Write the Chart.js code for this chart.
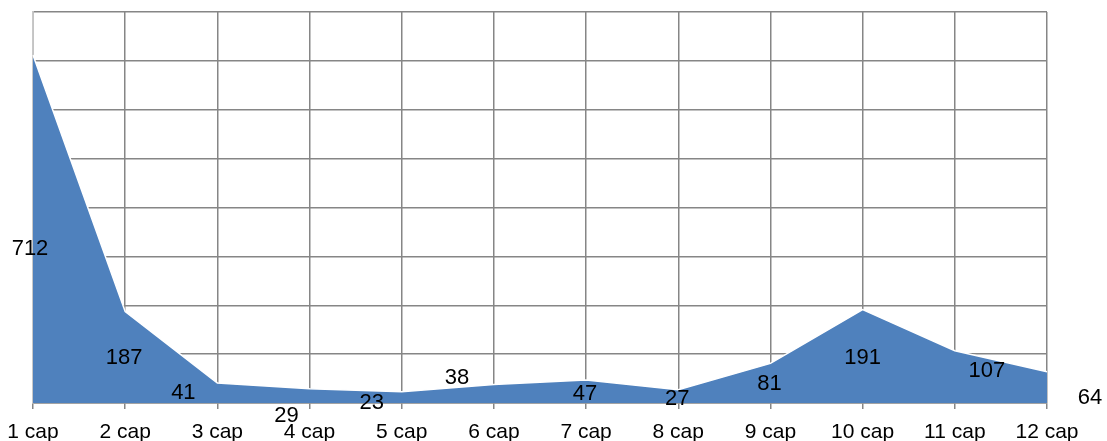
<!DOCTYPE html>
<html>
<head>
<meta charset="utf-8">
<script src="https://cdn.jsdelivr.net/npm/chart.js"></script>
<style>
  html, body { margin: 0; padding: 0; background: #ffffff; }
  #wrap { width: 1107px; height: 441px; position: relative; }
</style>
</head>
<body>
<div id="wrap"><canvas id="chart"></canvas></div>
<script>
// chart data
const categories = ['1 cap', '2 cap', '3 cap', '4 cap', '5 cap', '6 cap', '7 cap', '8 cap', '9 cap', '10 cap', '11 cap', '12 cap']
const counts = [712, 187, 41, 29, 23, 38, 47, 27, 81, 191, 107, 64]
const yMax = 800
const yStep = 100

// pixel nudges for the value labels (Excel placed them a bit oddly)
const labelNudgeX = [-3, -1, -34, -23, -30, -37, -1, -1, -1, 0, 32, 43]
const labelNudgeY = [20, 1, 0, 20, 6, -16, 2, 3, 1, 2, -6, 11]

const gridColor = '#868686'

// draws each value at the middle of its area column, then nudges it
const valueLabels = {
  id: 'valueLabels',
  afterDraw(chart) {
    const ctx = chart.ctx
    const meta = chart.getDatasetMeta(0)
    const yScale = chart.scales.y
    const zero = yScale.getPixelForValue(0)
    ctx.save()
    ctx.font = '22px "Liberation Sans", Arial, sans-serif'
    ctx.fillStyle = '#000000'
    ctx.textAlign = 'center'
    ctx.textBaseline = 'middle'
    meta.data.forEach((pt, i) => {
      const x = pt.x + labelNudgeX[i]
      const y = (pt.y + zero) / 2 + labelNudgeY[i]
      ctx.fillText(String(counts[i]), x, y)
    })
    ctx.restore()
  }
}

new Chart(document.getElementById('chart'), {
  type: 'line',
  data: {
    labels: categories,
    datasets: [{
      data: counts,
      fill: 'origin',
      backgroundColor: '#4F81BD',
      borderColor: '#ffffff',
      borderWidth: 1.5,
      pointRadius: 0,
      tension: 0
    }]
  },
  options: {
    responsive: true,
    maintainAspectRatio: false,
    animation: false,
    layout: { padding: { left: 33, right: 60, top: 12, bottom: 0 } },
    plugins: {
      legend: { display: false },
      tooltip: { enabled: false }
    },
    scales: {
      x: {
        offset: false,
        // keep the plot edges where the reference has them
        afterFit: (scale) => {
          scale.height = 38
          scale.paddingLeft = 0
          scale.paddingRight = 0
        },
        grid: { color: gridColor, lineWidth: 1.5, tickLength: 6, drawOnChartArea: true },
        border: { color: gridColor, width: 1.5 },
        ticks: {
          color: '#000000',
          font: { family: '"Liberation Sans", Arial, sans-serif', size: 21 },
          maxRotation: 0,
          autoSkip: false,
          padding: 11
        }
      },
      y: {
        min: 0,
        max: yMax,
        grid: { color: gridColor, lineWidth: 1.5, drawTicks: false },
        border: { color: '#c8c8c8', width: 1.5 },
        ticks: { display: false, stepSize: yStep }
      }
    }
  },
  plugins: [valueLabels]
})
</script>
</body>
</html>
